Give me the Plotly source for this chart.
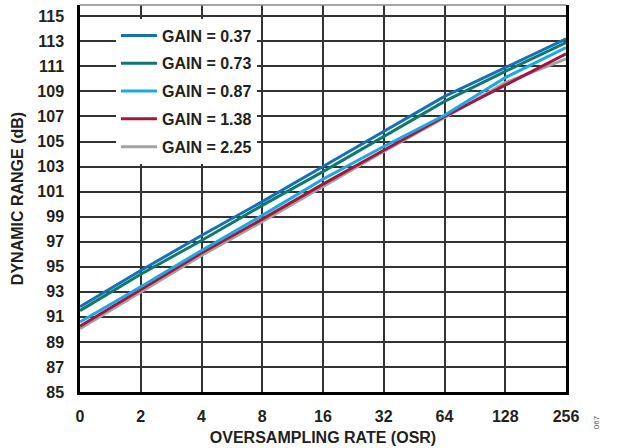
import plotly.graph_objects as go

osr_labels = ["0", "2", "4", "8", "16", "32", "64", "128", "256"]
series_names = ["GAIN = 0.37", "GAIN = 0.73", "GAIN = 0.87", "GAIN = 1.38", "GAIN = 2.25"]
gain_037 = [91.8, 94.7, 97.5, 100.2, 103.0, 105.8, 108.6, 110.9, 113.2]
gain_073 = [91.5, 94.4, 97.1, 99.9, 102.6, 105.4, 108.2, 110.6, 112.9]
gain_087 = [90.6, 93.4, 96.3, 99.1, 102.0, 104.6, 107.1, 110.1, 112.5]
gain_138 = [90.25, 93.2, 96.1, 98.8, 101.6, 104.3, 107.0, 109.5, 112.0]
gain_225 = [90.05, 93.0, 95.9, 98.6, 101.4, 104.2, 106.9, 109.7, 111.6]
y_ticks = list(range(85, 116, 2))

colors = ["#1670b8", "#0e7a6c", "#1ca9e1", "#a3173f", "#a3a3a3"]
all_series = [gain_037, gain_073, gain_087, gain_138, gain_225]

FONT = "Liberation Sans, Arial, sans-serif"

fig = go.Figure()
order = [4, 3, 2, 1, 0]
for i in order:
    fig.add_trace(go.Scatter(
        x=osr_labels, y=all_series[i], mode="lines", name=series_names[i],
        line=dict(color=colors[i], width=3), legendgroup=str(i),
        legendrank=i + 1,
    ))

fig.update_layout(
    width=623, height=448,
    margin=dict(l=80, r=56.5, t=4.5, b=56.3),
    paper_bgcolor="white", plot_bgcolor="white",
    font=dict(family=FONT, color="#231f20", size=16, weight="bold"),
    showlegend=True,
    legend=dict(
        x=0.074, y=0.965, xanchor="left", yanchor="top",
        bgcolor="white", borderwidth=0,
        font=dict(family=FONT, size=16, weight="bold", color="#231f20"),
        traceorder="grouped", tracegroupgap=4,
        itemwidth=36,
    ),
    xaxis=dict(
        type="category", range=[0, 8],
        showgrid=True, gridcolor="#333333", gridwidth=1.5,
        showline=True, linecolor="black", linewidth=2.5,
        ticks="", ticklabelstandoff=8,
        tickfont=dict(family=FONT, size=16, weight="bold"),
        title=dict(text="OVERSAMPLING RATE (OSR)", standoff=8,
                   font=dict(family=FONT, size=16, weight="bold")),
        zeroline=False, fixedrange=True,
    ),
    yaxis=dict(
        range=[85, 115.9], tickvals=y_ticks,
        showgrid=True, gridcolor="#333333", gridwidth=1.5,
        showline=True, linecolor="black", linewidth=2.5, mirror=True,
        ticks="", ticklabelstandoff=10,
        tickfont=dict(family=FONT, size=16, weight="bold"),
        title=dict(text="DYNAMIC RANGE (dB)", standoff=10,
                   font=dict(family=FONT, size=16, weight="bold")),
        zeroline=False, fixedrange=True,
    ),
    shapes=[
        dict(type="line", xref="paper", yref="paper", x0=0, x1=1, y0=1, y1=1,
             line=dict(color="#8a8a8a", width=1.5)),
        dict(type="rect", xref="paper", yref="paper", layer="between",
             x0=0.0534, x1=0.3864, y0=0.5958, y1=0.9548,
             fillcolor="white", line=dict(width=0)),
    ],
    annotations=[dict(text="067", xref="paper", yref="paper", x=1.075, y=-0.1015,
                      showarrow=False, textangle=-90,
                      font=dict(family=FONT, size=8, color="#555555", weight="normal"))],
)

fig.write_html("out.html", config={"displayModeBar": False},
               post_script="document.body.style.margin='0';")
